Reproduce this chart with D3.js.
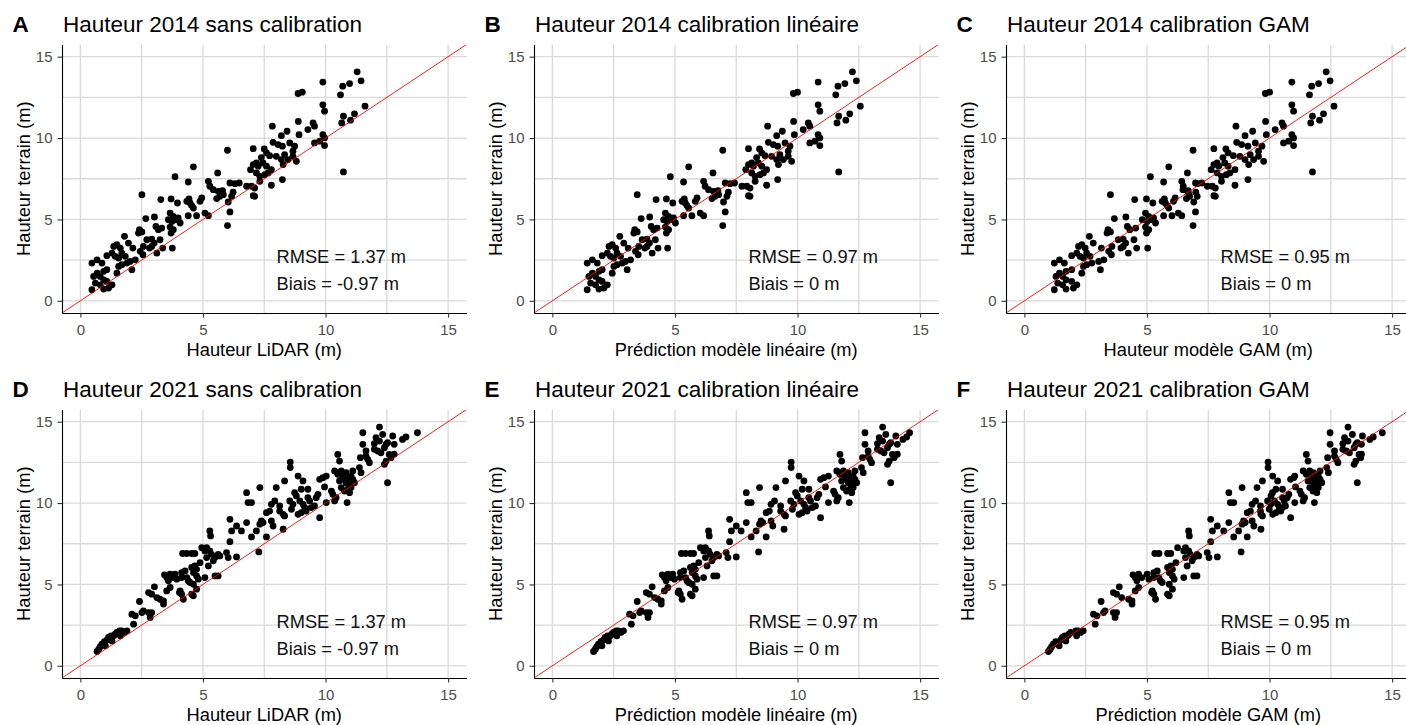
<!DOCTYPE html>
<html>
<head>
<meta charset="utf-8">
<script src="https://cdn.jsdelivr.net/npm/d3@7"></script>
<style>
  body { margin: 0; background: #fff; }
  text { font-family: "Liberation Sans", Arial, sans-serif; }
</style>
</head>
<body>
<svg id="chart" width="1406" height="725"></svg>
<script>
// Hauteur terrain (y) et prédictions (x)
const terrain2014 = [14.07,13.52,13.44,13.35,13.19,12.74,12.82,12.66,12.04,11.65,11.96,11.49,11.34,11.10,10.93,11.02,10.73,10.93,10.73,10.52,
  10.21,10.42,10.15,10.21,10.01,9.81,9.70,9.54,9.74,9.60,9.50,9.70,9.50,9.19,9.35,9.33,9.09,8.92,9.25,8.80,
  8.47,8.37,8.47,8.88,8.68,8.98,8.68,8.37,8.88,8.57,8.27,8.27,8.06,8.06,7.86,7.65,7.75,7.86,7.92,7.45,
  7.10,7.34,7.86,8.23,7.63,7.24,7.20,7.24,7.04,7.04,6.93,6.46,6.42,7.34,7.04,6.83,6.73,6.77,6.52,6.42,
  6.28,6.42,6.67,6.07,5.46,4.62,7.30,6.32,6.11,6.26,6.01,5.85,5.70,6.11,6.01,6.26,6.22,5.23,5.23,5.39,
  5.23,5.39,5.19,5.09,4.98,4.88,4.98,4.78,4.53,4.37,4.16,3.24,5.05,5.15,4.57,4.37,4.47,6.52,4.37,4.23,
  4.16,3.75,3.79,3.55,3.75,3.24,2.93,3.24,3.34,3.34,3.04,2.83,2.52,3.96,3.34,3.45,3.24,3.55,3.24,2.93,
  2.73,2.63,2.93,2.73,2.32,2.42,2.77,2.11,2.22,1.91,1.70,2.52,2.32,2.32,1.91,1.81,1.70,1.50,1.50,1.29,
  1.19,1.09,0.98,0.78,0.68,0.72,0.98];
const lidar2014 = [11.29,11.45,9.89,10.98,10.70,8.88,9.05,10.61,9.89,9.96,11.61,11.18,10.73,11.02,10.66,8.89,7.83,9.49,9.55,9.28,
  8.92,8.43,8.20,9.89,9.96,9.76,9.55,9.96,7.86,8.06,8.24,8.54,8.74,8.67,7.05,7.50,7.59,7.72,6.00,7.38,
  7.18,7.05,7.45,7.99,8.20,8.33,8.47,8.27,8.67,8.81,7.25,7.59,7.79,6.94,7.18,7.32,7.52,7.66,10.73,8.24,
  7.79,7.32,5.60,4.61,3.86,6.10,6.30,6.48,6.78,6.98,7.11,7.05,7.11,5.22,5.28,5.42,5.62,5.80,5.83,5.69,
  5.56,6.17,6.23,6.03,6.10,6.00,4.40,4.95,4.88,4.43,4.47,4.54,4.61,4.34,3.96,3.70,3.28,4.40,4.74,5.08,
  5.22,3.66,3.79,3.99,3.59,3.73,3.86,4.07,3.66,3.79,3.70,3.75,2.67,3.02,3.08,3.18,3.32,2.51,2.41,2.51,
  2.37,2.71,2.91,3.01,3.25,3.36,3.12,2.82,2.91,2.57,2.44,2.55,2.24,1.80,1.36,1.49,1.63,1.96,2.14,1.29,
  1.42,1.56,1.69,1.83,1.90,2.03,1.08,1.56,1.69,2.10,1.49,0.68,0.47,0.88,1.08,0.95,0.68,0.54,0.81,0.95,
  1.08,0.61,0.81,1.15,0.47,0.95,1.29];
const lineaire2014 = [12.24,12.40,10.84,11.93,11.65,9.83,10.00,11.56,10.84,10.91,12.56,12.13,11.68,11.97,11.61,9.84,8.78,10.44,10.50,10.23,
  9.87,9.38,9.15,10.84,10.91,10.71,10.50,10.91,8.81,9.01,9.19,9.49,9.69,9.62,8.00,8.45,8.54,8.67,6.95,8.33,
  8.13,8.00,8.40,8.94,9.15,9.28,9.42,9.22,9.62,9.76,8.20,8.54,8.74,7.89,8.13,8.27,8.47,8.61,11.68,9.19,
  8.74,8.27,6.55,5.56,4.81,7.05,7.25,7.43,7.73,7.93,8.06,8.00,8.06,6.17,6.23,6.37,6.57,6.75,6.78,6.64,
  6.51,7.12,7.18,6.98,7.05,6.95,5.35,5.90,5.83,5.38,5.42,5.49,5.56,5.29,4.91,4.65,4.23,5.35,5.69,6.03,
  6.17,4.61,4.74,4.94,4.54,4.68,4.81,5.02,4.61,4.74,4.65,4.70,3.62,3.97,4.03,4.13,4.27,3.46,3.36,3.46,
  3.32,3.66,3.86,3.96,4.20,4.31,4.07,3.77,3.86,3.52,3.39,3.50,3.19,2.75,2.31,2.44,2.58,2.91,3.09,2.24,
  2.37,2.51,2.64,2.78,2.85,2.98,2.03,2.51,2.64,3.05,2.44,1.63,1.42,1.83,2.03,1.90,1.63,1.49,1.76,1.90,
  2.03,1.56,1.76,2.10,1.42,1.90,2.24];
const gam2014 = [12.31,12.47,10.91,12.00,11.72,9.83,10.00,11.63,10.91,10.98,12.63,12.20,11.75,12.04,11.68,9.84,8.63,10.51,10.57,10.23,
  9.87,9.31,9.00,10.91,10.98,10.78,10.57,10.98,8.66,8.86,9.12,9.42,9.69,9.55,7.73,8.22,8.31,8.52,6.88,8.10,
  7.86,7.73,8.17,8.79,9.00,9.21,9.35,9.15,9.55,9.76,7.93,8.31,8.59,7.62,7.86,8.04,8.24,8.38,11.75,9.12,
  8.59,8.04,6.65,5.89,5.14,6.98,7.06,7.24,7.46,7.66,7.79,7.73,7.79,6.42,6.48,6.47,6.67,6.68,6.71,6.74,
  6.61,7.05,6.99,6.91,6.98,6.88,5.68,6.15,6.08,5.71,5.75,5.82,5.89,5.62,5.24,4.98,4.50,5.68,6.02,6.28,
  6.42,4.94,5.07,5.27,4.81,5.01,5.14,5.35,4.94,5.07,4.98,5.03,3.67,4.14,4.20,4.30,4.54,3.51,3.41,3.51,
  3.37,3.83,4.03,4.13,4.47,4.58,4.24,3.94,4.03,3.57,3.44,3.55,3.24,2.65,2.21,2.34,2.48,2.81,3.14,2.14,
  2.27,2.41,2.54,2.68,2.75,3.03,1.93,2.41,2.54,3.10,2.34,1.43,1.22,1.63,1.93,1.70,1.43,1.29,1.56,1.70,
  1.93,1.36,1.56,2.00,1.22,1.70,2.14];

const terrain2021 = [0.88,1.02,1.17,1.33,1.49,1.58,1.74,1.84,1.84,1.94,2.05,2.15,2.15,2.05,2.15,1.84,1.53,1.23,2.56,3.17,
  3.07,3.95,3.27,3.38,4.50,4.40,3.27,3.27,2.97,4.85,4.19,4.09,3.99,3.79,5.59,5.42,5.63,5.22,4.60,4.81,
  5.42,5.63,5.32,5.42,5.73,4.60,4.40,4.09,4.50,6.90,6.90,6.90,6.90,5.83,5.42,5.22,6.04,6.14,5.93,6.34,
  5.73,5.52,5.32,4.40,4.30,4.71,5.12,5.01,7.26,7.26,7.06,7.06,6.65,6.14,5.42,6.85,6.65,6.45,6.85,6.75,
  8.29,7.98,5.52,5.52,6.96,6.65,9.00,8.29,7.63,8.59,8.29,6.69,10.64,10.03,10.03,8.80,7.92,8.29,8.70,8.90,
  8.80,10.95,7.00,7.92,9.41,9.51,9.92,10.13,8.90,8.59,10.95,9.51,9.31,9.21,9.82,8.39,11.36,12.52,12.18,10.13,
  9.92,9.62,10.64,10.44,11.66,11.36,9.31,9.41,10.85,10.13,9.92,9.72,10.85,10.33,10.13,9.51,9.72,9.82,10.33,10.54,
  9.10,11.46,11.56,11.66,10.99,10.03,10.74,10.54,10.13,10.33,12.99,12.58,11.97,11.77,11.97,11.66,11.36,11.46,11.25,11.56,
  10.95,10.74,10.85,11.15,11.87,11.66,11.97,10.03,11.46,11.25,10.95,10.64,12.18,11.87,12.79,14.32,13.61,13.20,12.48,12.69,
  12.89,14.67,14.02,13.81,14.22,13.30,13.20,13.09,13.40,13.61,13.71,12.58,12.38,12.99,12.79,14.12,13.61,13.00,11.25,13.91,
  14.06,14.32,13.65];
const lidar2021 = [0.68,0.75,0.81,0.88,0.98,1.08,1.15,1.25,1.36,1.42,1.49,1.60,1.69,1.79,1.90,1.63,1.29,1.02,2.17,2.10,
  2.24,2.41,2.51,2.57,2.78,2.91,2.78,2.91,2.85,3.02,3.12,3.25,3.39,3.39,3.43,3.52,3.66,3.59,3.52,3.66,
  3.79,3.86,3.93,4.13,4.13,4.07,4.13,4.20,4.04,4.17,4.34,4.54,4.67,4.27,4.34,4.40,4.54,4.67,4.74,4.88,
  4.61,4.74,4.81,4.54,4.61,4.74,4.47,4.61,4.95,5.15,5.08,5.28,5.15,5.22,5.08,5.35,5.49,5.42,5.62,5.69,
  5.28,5.31,5.49,5.62,5.96,6.03,6.10,6.17,6.10,6.37,6.57,6.37,6.78,6.84,6.98,6.78,6.98,7.18,7.32,7.38,
  7.45,7.32,7.28,7.59,7.59,7.72,7.79,7.93,7.79,7.86,7.99,8.13,8.27,8.33,8.13,8.27,8.33,8.56,8.56,8.54,
  8.67,8.61,8.74,8.81,8.88,9.08,8.88,9.01,9.01,8.95,9.08,9.15,9.28,9.28,9.35,9.21,9.42,9.55,9.62,9.69,
  9.76,9.76,9.89,10.03,9.96,10.03,10.24,10.30,10.37,10.43,10.50,10.57,10.37,10.50,10.64,10.70,10.57,10.77,10.84,10.91,
  10.64,10.77,10.91,10.98,10.84,11.04,11.11,10.88,11.11,11.18,11.04,10.98,11.38,11.45,11.42,11.52,11.52,11.65,11.79,11.72,
  11.65,12.20,12.06,12.20,12.33,11.99,12.13,12.26,12.40,12.47,12.53,12.47,12.40,12.60,12.67,12.74,12.80,12.80,12.53,13.14,
  13.28,13.75,11.99];
const lineaire2021 = [1.68,1.75,1.81,1.88,1.98,2.08,2.15,2.25,2.36,2.42,2.49,2.60,2.69,2.79,2.90,2.63,2.29,2.02,3.22,3.15,
  3.29,3.46,3.56,3.62,3.83,3.96,3.83,3.96,3.90,4.07,4.17,4.30,4.44,4.44,4.48,4.57,4.71,4.64,4.57,4.71,
  4.84,4.91,4.98,5.22,5.22,5.16,5.22,5.29,5.13,5.26,5.43,5.63,5.76,5.36,5.43,5.49,5.63,5.76,5.83,5.97,
  5.70,5.83,5.90,5.63,5.70,5.83,5.56,5.70,6.04,6.24,6.17,6.37,6.24,6.31,6.17,6.44,6.58,6.51,6.71,6.78,
  6.37,6.40,6.58,6.71,7.09,7.16,7.23,7.30,7.23,7.50,7.70,7.50,7.91,7.97,8.11,7.91,8.11,8.31,8.45,8.51,
  8.58,8.45,8.41,8.72,8.72,8.85,8.92,9.06,8.92,8.99,9.12,9.31,9.45,9.51,9.31,9.45,9.51,9.74,9.74,9.72,
  9.85,9.79,9.92,9.99,10.06,10.26,10.06,10.19,10.19,10.13,10.26,10.33,10.46,10.46,10.53,10.39,10.60,10.73,10.80,10.87,
  10.94,10.94,11.07,11.26,11.14,11.26,11.47,11.53,11.60,11.66,11.73,11.80,11.60,11.73,11.87,11.93,11.80,12.00,12.07,12.14,
  11.87,12.00,12.14,12.21,12.07,12.27,12.34,12.11,12.34,12.41,12.27,12.21,12.61,12.68,12.65,12.75,12.75,12.88,13.02,12.95,
  12.88,13.47,13.33,13.47,13.60,13.26,13.40,13.53,13.67,13.74,13.80,13.74,13.67,13.87,13.94,14.01,14.07,14.07,13.80,14.30,
  14.45,14.57,13.26];
const gam2021 = [0.98,1.05,1.11,1.18,1.28,1.48,1.55,1.65,1.76,1.82,1.89,2.10,2.19,2.29,2.40,2.13,1.69,1.42,2.89,2.82,
  2.96,3.13,3.23,3.29,3.63,3.76,3.63,3.76,3.70,3.87,3.97,4.25,4.39,4.39,4.43,4.52,4.66,4.59,4.52,4.66,
  4.79,5.01,5.08,5.28,5.28,5.22,5.28,5.35,5.19,5.32,5.49,5.84,5.97,5.42,5.49,5.55,5.84,5.97,6.04,6.18,
  5.91,6.04,6.11,5.84,5.91,6.04,5.62,5.91,6.25,6.57,6.50,6.70,6.57,6.64,6.50,6.77,6.91,6.84,7.04,7.11,
  6.70,6.73,6.91,7.04,7.46,7.53,7.60,7.67,7.60,7.87,8.13,7.87,8.34,8.40,8.54,8.34,8.54,8.74,8.88,8.94,
  9.01,8.88,8.84,9.09,9.09,9.22,9.29,9.43,9.29,9.36,9.49,9.63,9.65,9.71,9.63,9.65,9.71,9.94,9.94,9.92,
  10.05,9.99,10.12,10.06,10.13,10.33,10.13,10.26,10.26,10.20,10.33,10.40,10.53,10.53,10.60,10.46,10.52,10.65,10.72,10.79,
  10.86,10.86,10.99,11.03,11.06,11.03,11.24,11.30,11.37,11.43,11.50,11.57,11.37,11.50,11.64,11.70,11.57,11.77,11.79,11.86,
  11.64,11.77,11.86,11.93,11.79,11.99,12.06,11.83,12.06,12.13,11.99,11.93,12.33,12.40,12.37,12.47,12.47,12.65,12.79,12.72,
  12.65,13.20,13.06,13.20,13.38,12.99,13.13,13.26,13.45,13.52,13.58,13.52,13.45,13.65,13.72,13.79,13.75,13.75,13.58,14.09,
  14.23,14.60,12.99];

const majorTicks = [0, 5, 10, 15];
const minorTicks = [2.5, 7.5, 12.5];

const panels = [
  { letter: 'A', title: 'Hauteur 2014 sans calibration', xLabel: 'Hauteur LiDAR (m)', xs: lidar2014, ys: terrain2014, rmse: 'RMSE = 1.37 m', biais: 'Biais = -0.97 m' },
  { letter: 'B', title: 'Hauteur 2014 calibration linéaire', xLabel: 'Prédiction modèle linéaire (m)', xs: lineaire2014, ys: terrain2014, rmse: 'RMSE = 0.97 m', biais: 'Biais = 0 m' },
  { letter: 'C', title: 'Hauteur 2014 calibration GAM', xLabel: 'Hauteur modèle GAM (m)', xs: gam2014, ys: terrain2014, rmse: 'RMSE = 0.95 m', biais: 'Biais = 0 m' },
  { letter: 'D', title: 'Hauteur 2021 sans calibration', xLabel: 'Hauteur LiDAR (m)', xs: lidar2021, ys: terrain2021, rmse: 'RMSE = 1.37 m', biais: 'Biais = -0.97 m' },
  { letter: 'E', title: 'Hauteur 2021 calibration linéaire', xLabel: 'Prédiction modèle linéaire (m)', xs: lineaire2021, ys: terrain2021, rmse: 'RMSE = 0.97 m', biais: 'Biais = 0 m' },
  { letter: 'F', title: 'Hauteur 2021 calibration GAM', xLabel: 'Prédiction modèle GAM (m)', xs: gam2021, ys: terrain2021, rmse: 'RMSE = 0.95 m', biais: 'Biais = 0 m' }
];

const svg = d3.select('#chart');
const colLeft = [62, 534, 1006];
const rowTop = [44.5, 409.5];
const w = 404.5, h = 268.5;
const dom = [-0.75, 15.75];

panels.forEach((p, i) => {
  const left = colLeft[i % 3], top = rowTop[Math.floor(i / 3)];
  const x = d3.scaleLinear().domain(dom).range([0, w]);
  const y = d3.scaleLinear().domain(dom).range([h, 0]);
  const g = svg.append('g').attr('transform', `translate(${left},${top})`);

  g.append('clipPath').attr('id', 'clip' + i)
    .append('rect').attr('width', w).attr('height', h);

  // grille (mineure puis majeure)
  const grid = [...minorTicks, ...majorTicks];
  g.selectAll('.vgrid').data(grid).enter().append('line')
    .attr('x1', d => x(d)).attr('x2', d => x(d)).attr('y1', 0).attr('y2', h)
    .attr('stroke', '#d9d9d9').attr('stroke-width', 1.3);
  g.selectAll('.hgrid').data(grid).enter().append('line')
    .attr('y1', d => y(d)).attr('y2', d => y(d)).attr('x1', 0).attr('x2', w)
    .attr('stroke', '#d9d9d9').attr('stroke-width', 1.3);

  // points
  g.append('g').selectAll('circle').data(p.xs.map((v, k) => [v, p.ys[k]])).enter()
    .append('circle')
    .attr('cx', d => x(d[0])).attr('cy', d => y(d[1])).attr('r', 3.4)
    .attr('fill', '#000');

  // droite 1:1
  g.append('line').attr('clip-path', `url(#clip${i})`)
    .attr('x1', x(dom[0])).attr('y1', y(dom[0]))
    .attr('x2', x(dom[1])).attr('y2', y(dom[1]))
    .attr('stroke', '#ff0000').attr('stroke-width', 0.9);

  // axes
  const ax = g.append('g').attr('transform', `translate(0,${h})`)
    .call(d3.axisBottom(x).tickValues(majorTicks).tickSize(4.5).tickSizeOuter(0).tickPadding(7));
  const ay = g.append('g')
    .call(d3.axisLeft(y).tickValues(majorTicks).tickSize(4.5).tickSizeOuter(0).tickPadding(5));
  [ax, ay].forEach(a => {
    a.select('.domain').attr('stroke', '#000').attr('stroke-width', 1.1);
    a.selectAll('.tick line').attr('stroke', '#333').attr('stroke-width', 1.1);
    a.selectAll('.tick text').attr('fill', '#4d4d4d').style('font-size', '15px')
      .style('font-family', '"Liberation Sans", Arial, sans-serif');
  });

  // annotations
  g.append('text').attr('x', x(8)).attr('y', y(2.32)).attr('font-size', 18.3).attr('fill', '#111').text(p.rmse);
  g.append('text').attr('x', x(8)).attr('y', y(0.68)).attr('font-size', 18.3).attr('fill', '#111').text(p.biais);

  // titres
  g.append('text').attr('x', -49.5).attr('y', -12.8).attr('font-size', 22.5).attr('font-weight', 'bold').text(p.letter);
  g.append('text').attr('x', 1).attr('y', -12.8).attr('font-size', 22.5).text(p.title);
  g.append('text').attr('x', w / 2).attr('y', h + 43).attr('text-anchor', 'middle').attr('font-size', 18.3).text(p.xLabel);
  g.append('text').attr('transform', `translate(-32,${h / 2}) rotate(-90)`).attr('text-anchor', 'middle')
    .attr('font-size', 18.3).text('Hauteur terrain (m)');
});
</script>
</body>
</html>
